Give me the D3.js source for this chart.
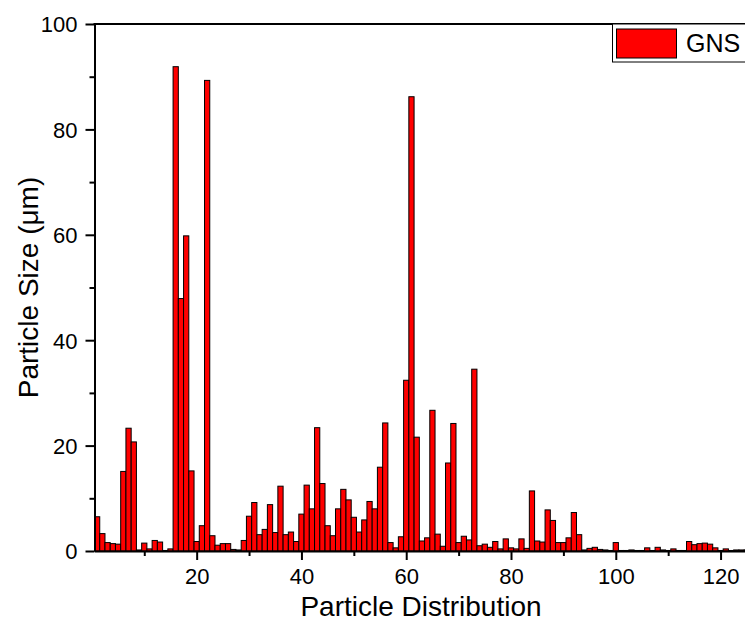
<!DOCTYPE html>
<html>
<head>
<meta charset="utf-8">
<script src="https://cdn.jsdelivr.net/npm/d3@7"></script>
<style>
  body { margin: 0; background: #fff; overflow: hidden; }
  svg { display: block; font-family: "Liberation Sans", Arial, sans-serif; }
  .axis path, .axis line { stroke: #000; stroke-width: 2; }
  .axis text { font-size: 22px; fill: #000; }
</style>
</head>
<body>
<svg id="chart"></svg>
<script>
// bin number along the x axis
const bins = [
  1, 2, 3, 4, 5, 6, 7, 8, 9, 10, 11, 12, 13, 14, 15, 16, 17, 18, 19, 20,
  21, 22, 23, 24, 25, 26, 27, 28, 29, 30, 31, 32, 33, 34, 35, 36, 37, 38, 39, 40,
  41, 42, 43, 44, 45, 46, 47, 48, 49, 50, 51, 52, 53, 54, 55, 56, 57, 58, 59, 60,
  61, 62, 63, 64, 65, 66, 67, 68, 69, 70, 71, 72, 73, 74, 75, 76, 77, 78, 79, 80,
  81, 82, 83, 84, 85, 86, 87, 88, 89, 90, 91, 92, 93, 94, 95, 96, 97, 98, 99, 100,
  101, 102, 103, 104, 105, 106, 107, 108, 109, 110, 111, 112, 113, 114, 115, 116, 117, 118, 119, 120,
  121, 122, 123, 124, 125
];

// GNS particle size (um) per bin
const gnsSize = [
  6.5, 3.3, 1.6, 1.4, 1.3, 15.1, 23.3, 20.7, 0.2, 1.5, 0.4, 2.0, 1.7, 0.1, 0.4, 91.9, 47.9, 59.8, 15.2, 1.8,
  4.8, 89.3, 2.9, 1.1, 1.4, 1.4, 0.3, 0.2, 2.0, 6.6, 9.2, 3.1, 4.1, 8.8, 3.5, 12.3, 3.1, 3.6, 1.8, 7.0,
  12.5, 8.0, 23.4, 12.8, 4.8, 2.9, 8.0, 11.7, 9.7, 6.4, 3.6, 5.9, 9.4, 8.0, 15.9, 24.3, 1.6, 0.6, 2.7, 32.4,
  86.2, 21.6, 1.9, 2.5, 26.7, 3.2, 0.9, 16.7, 24.2, 1.6, 2.8, 2.1, 34.5, 1.0, 1.3, 0.7, 1.8, 0.4, 2.3, 0.6,
  0.4, 2.3, 0.5, 11.4, 1.9, 1.7, 7.8, 5.8, 1.6, 1.6, 2.5, 7.3, 3.1, 0.2, 0.5, 0.7, 0.3, 0.2, 0.1, 1.6,
  0.1, 0.1, 0.2, 0.1, 0.1, 0.6, 0.1, 0.7, 0.2, 0.1, 0.4, 0.1, 0.1, 1.8, 1.2, 1.4, 1.5, 1.3, 0.6, 0.1,
  0.4, 0.1, 0.2, 0.2, 0.2
];

const xMajorTicks = [20, 40, 60, 80, 100, 120];
const xMinorTicks = [10, 30, 50, 70, 90, 110];
const yMajorTicks = [0, 20, 40, 60, 80, 100];
const yMinorTicks = [10, 30, 50, 70, 90];

const seriesName = "GNS";
const xLabel = "Particle Distribution";
const yLabel = "Particle Size (\u03bcm)";

const width = 745, height = 622;
// plot area runs past the right edge of the picture, like the source image
const margin = {top: 24, left: 94.5, bottom: 71};
const plotRight = 752;

const svg = d3.select("#chart")
    .attr("width", width)
    .attr("height", height);

const x = d3.scaleLinear()
    .domain([0.5, 126])
    .range([margin.left, plotRight]);

const y = d3.scaleLinear()
    .domain([0, 100])
    .range([height - margin.bottom, margin.top]);

const data = bins.map((b, i) => ({bin: b, value: gnsSize[i]}));

// bars
svg.append("g")
  .selectAll("rect")
  .data(data)
  .join("rect")
    .attr("x", d => x(d.bin - 0.5))
    .attr("width", d => x(d.bin + 0.5) - x(d.bin - 0.5))
    .attr("y", d => y(d.value))
    .attr("height", d => y(0) - y(d.value))
    .attr("fill", "#ff0000")
    .attr("stroke", "#000")
    .attr("stroke-width", 1);

// x axis, major + minor ticks pointing out
svg.append("g")
    .attr("class", "axis")
    .attr("transform", `translate(0,${y(0)})`)
    .call(d3.axisBottom(x).tickValues(xMinorTicks).tickSize(5).tickFormat(""))
    .call(g => g.select(".domain").remove());

svg.append("g")
    .attr("class", "axis")
    .attr("transform", `translate(0,${y(0)})`)
    .call(d3.axisBottom(x).tickValues(xMajorTicks).tickSize(9).tickSizeOuter(0).tickPadding(8));

// y axis
svg.append("g")
    .attr("class", "axis")
    .attr("transform", `translate(${margin.left},0)`)
    .call(d3.axisLeft(y).tickValues(yMinorTicks).tickSize(5).tickFormat(""))
    .call(g => g.select(".domain").remove());

svg.append("g")
    .attr("class", "axis")
    .attr("transform", `translate(${margin.left},0)`)
    .call(d3.axisLeft(y).tickValues(yMajorTicks).tickSize(9).tickSizeOuter(0).tickPadding(8))
    .selectAll("text")
    .attr("dy", "0.36em");

// top frame line
svg.append("line")
    .attr("x1", margin.left - 1)
    .attr("x2", plotRight)
    .attr("y1", y(100))
    .attr("y2", y(100))
    .attr("stroke", "#000")
    .attr("stroke-width", 2);

// axis titles
svg.append("text")
    .attr("x", 421)
    .attr("y", 616)
    .attr("text-anchor", "middle")
    .style("font-size", "28px")
    .text(xLabel);

svg.append("text")
    .attr("transform", `translate(38,${(y(0) + y(100)) / 2}) rotate(-90)`)
    .attr("text-anchor", "middle")
    .style("font-size", "28px")
    .text(yLabel);

// legend
const legend = svg.append("g");
legend.append("rect")
    .attr("x", 612.5)
    .attr("y", y(100))
    .attr("width", 160)
    .attr("height", 38)
    .attr("fill", "#fff")
    .attr("stroke", "#000")
    .attr("stroke-width", 1);
legend.append("rect")
    .attr("x", 616.5)
    .attr("y", 29)
    .attr("width", 60)
    .attr("height", 29)
    .attr("fill", "#ff0000")
    .attr("stroke", "#000")
    .attr("stroke-width", 1);
legend.append("text")
    .attr("x", 686)
    .attr("y", 52)
    .style("font-size", "25px")
    .text(seriesName);
</script>
</body>
</html>
